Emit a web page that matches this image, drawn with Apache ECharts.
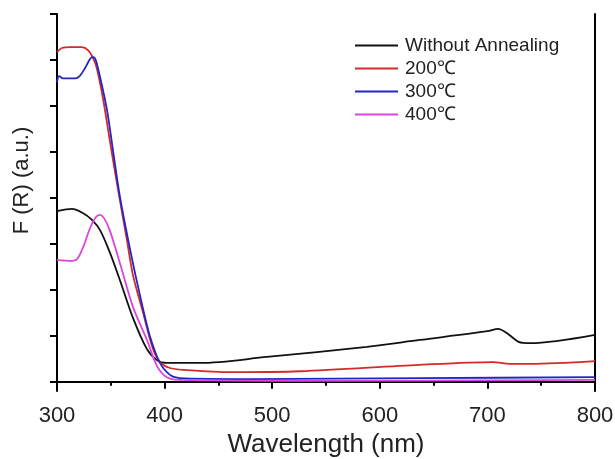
<!DOCTYPE html>
<html><head><meta charset="utf-8">
<script src="https://cdn.jsdelivr.net/npm/echarts@6/dist/echarts.min.js"></script>
<style>html,body{margin:0;padding:0;background:#fff}#c{width:615px;height:459px}</style>
</head><body><div id="c"></div>
<script>
const seriesNames = ['Without Annealing', '200\u2103', '300\u2103', '400\u2103'];
const xTicks = [300, 400, 500, 600, 700, 800];
const yTicks = [0, 1, 2, 3, 4, 5, 6, 7, 8];

const noAnnealX = [300,314,324,332.5,340,349,358.5,370.6,383.6,393,402,433,495,588,637,700,710,718,729,740,800];
const noAnnealY = [3.71,3.76,3.67,3.52,3.30,2.82,2.21,1.39,0.71,0.47,0.41,0.41,0.54,0.76,0.91,1.10,1.15,1.06,0.87,0.84,1.02];

const t200X = [300,304.6,312,323,329,333.5,337,343,349,356,365,370.6,380,389,395.7,405,417,463.6,526,637,705,721,740,800];
const t200Y = [7.17,7.26,7.28,7.28,7.21,7.04,6.82,6.13,5.26,4.28,3.08,2.32,1.50,0.73,0.43,0.30,0.26,0.21,0.23,0.37,0.43,0.39,0.39,0.45];

const t300X = [300,302,305.6,317,321,326,330.7,333.5,336,340,346.5,352,358.5,368,377,386,395.7,405,414,479,637,800];
const t300Y = [6.52,6.65,6.60,6.60,6.65,6.82,7.02,7.06,7.00,6.63,5.91,5.04,4.02,2.87,1.89,1.02,0.41,0.15,0.08,0.06,0.08,0.10];

const t400X = [300,312,318.6,324,330.7,336,340,343.7,349,358.5,370.6,383.6,393,402,414,526,800];
const t400Y = [2.65,2.63,2.67,2.91,3.34,3.58,3.63,3.56,3.30,2.58,1.63,0.91,0.34,0.10,0.04,0.02,0.04];

const colors = ['#111111', '#d42a2a', '#2424c8', '#dd44dd'];
const xs = [noAnnealX, t200X, t300X, t400X];
const ys = [noAnnealY, t200Y, t300Y, t400Y];

const font = 'Liberation Sans, Arial, sans-serif';
const chart = echarts.init(document.getElementById('c'));
chart.setOption({
  animation: false,
  grid: { left: 57, right: 20, top: 14, bottom: 68, outerBoundsMode: 'none', containLabel: false },
  legend: {
    orient: 'vertical', left: 350, top: 31,
    itemWidth: 43, itemHeight: 2, itemGap: 4, icon: 'rect',
    data: seriesNames,
    textStyle: { fontFamily: font, fontSize: 19, color: '#222', padding: [0,0,0,2] }
  },
  xAxis: [{
    type: 'value', min: 300, max: 800, interval: 100,
    name: 'Wavelength (nm)', nameLocation: 'middle', nameGap: 37,
    nameTextStyle: { fontFamily: font, fontSize: 26, color: '#222' },
    axisLine: { lineStyle: { color: '#000', width: 2 } },
    axisTick: { length: 7, lineStyle: { width: 2, color: '#000' } },
    minorTick: { show: true, splitNumber: 2, length: 4, lineStyle: { width: 2, color: '#000' } },
    axisLabel: { fontFamily: font, fontSize: 22, color: '#222', margin: 14,
      customValues: xTicks },
    splitLine: { show: false }
  }, {
    type: 'value', min: 300, max: 800, position: 'top',
    axisLine: { show: true, lineStyle: { color: '#000', width: 2 } },
    axisTick: { show: false }, axisLabel: { show: false }, splitLine: { show: false }
  }],
  yAxis: [{
    type: 'value', min: -0.2, max: 8,
    name: 'F (R) (a.u.)', nameLocation: 'middle', nameGap: 24,
    nameTextStyle: { fontFamily: font, fontSize: 22, color: '#222', padding: [0, 0, 0, 44] },
    axisLine: { show: true, lineStyle: { color: '#000', width: 2 } },
    axisTick: { show: true, length: 7, customValues: yTicks, lineStyle: { width: 2, color: '#000' } },
    axisLabel: { show: false },
    splitLine: { show: false }
  }, {
    type: 'value', min: -0.2, max: 8, position: 'right',
    axisLine: { show: true, lineStyle: { color: '#000', width: 2 } },
    axisTick: { show: false }, axisLabel: { show: false }, splitLine: { show: false }
  }],
  series: seriesNames.map((n, i) => ({
    name: n, type: 'line', smooth: 0.3, symbol: 'none',
    color: colors[i],
    lineStyle: { width: 1.8, color: colors[i] },
    data: xs[i].map((x, j) => [x, ys[i][j]])
  }))
});
</script></body></html>
